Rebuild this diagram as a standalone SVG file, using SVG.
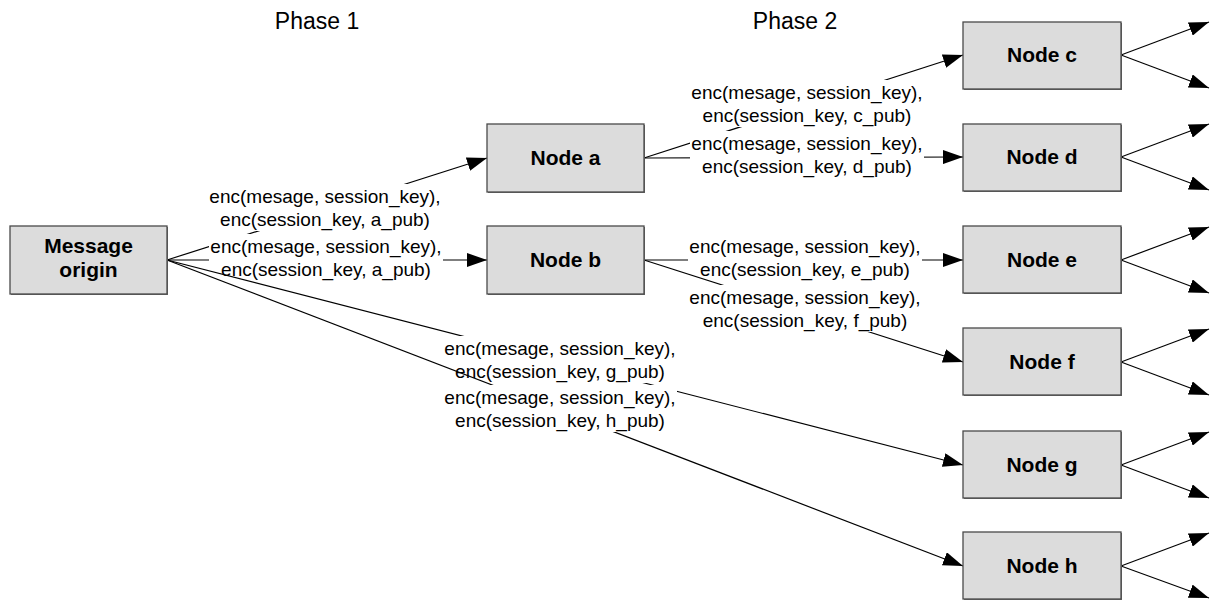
<svg xmlns="http://www.w3.org/2000/svg" width="1211" height="601" viewBox="0 0 1211 601">
  <style>
    .box { fill: #dcdcdc; stroke: #4a4a4a; stroke-width: 1.3; }
    .shadow { fill: #6a6a6a; }
    .name { font-family: "Liberation Sans", Arial, sans-serif; font-size: 21px; font-weight: bold; fill: #000; text-anchor: middle; }
    .phase { font-family: "Liberation Sans", Arial, sans-serif; font-size: 23px; fill: #000; text-anchor: middle; }
    .wire { stroke: #000; stroke-width: 1.2; fill: none; marker-end: url(#arrow); }
    .lbl { font-family: "Liberation Sans", Arial, sans-serif; font-size: 19px; fill: #000; text-anchor: middle; }
    .lblbg { fill: #fff; }
  </style>
  <defs>
    <marker id="arrow" markerUnits="userSpaceOnUse" markerWidth="21" markerHeight="14" refX="20" refY="7" orient="auto">
      <path d="M0,0 L20,7 L0,14 z" fill="#000"/>
    </marker>
  </defs>

  <rect width="1211" height="601" fill="#fff"/>

  <!-- phase headings -->
  <text class="phase" x="317" y="29">Phase 1</text>
  <text class="phase" x="795" y="29">Phase 2</text>

  <!-- connectors: drawn in order, each label blanks out lines drawn before it -->
  <g id="connectors">
    <g id="origin-a">
      <line class="wire" x1="167" y1="260" x2="487" y2="158"/>
      <rect class="lblbg" x="208" y="184" width="234" height="47"/>
      <text class="lbl" x="325" y="203">enc(mesage, session_key),</text>
      <text class="lbl" x="325" y="226">enc(session_key, a_pub)</text>
    </g>
    <g id="origin-b">
      <line class="wire" x1="167" y1="260" x2="487" y2="260"/>
      <rect class="lblbg" x="209" y="234" width="234" height="47"/>
      <text class="lbl" x="326" y="253">enc(mesage, session_key),</text>
      <text class="lbl" x="326" y="276">enc(session_key, a_pub)</text>
    </g>
    <g id="origin-g">
      <line class="wire" x1="167" y1="260" x2="963" y2="465"/>
      <rect class="lblbg" x="443" y="336" width="234" height="47"/>
      <text class="lbl" x="560" y="355">enc(mesage, session_key),</text>
      <text class="lbl" x="560" y="378">enc(session_key, g_pub)</text>
    </g>
    <g id="origin-h">
      <line class="wire" x1="167" y1="260" x2="963" y2="566"/>
      <rect class="lblbg" x="443" y="385" width="234" height="47"/>
      <text class="lbl" x="560" y="404">enc(mesage, session_key),</text>
      <text class="lbl" x="560" y="427">enc(session_key, h_pub)</text>
    </g>
    <g id="a-c">
      <line class="wire" x1="644" y1="158" x2="963" y2="55"/>
      <rect class="lblbg" x="690" y="80" width="234" height="47"/>
      <text class="lbl" x="807" y="99">enc(mesage, session_key),</text>
      <text class="lbl" x="807" y="122">enc(session_key, c_pub)</text>
    </g>
    <g id="a-d">
      <line class="wire" x1="644" y1="158" x2="963" y2="157"/>
      <rect class="lblbg" x="690" y="131" width="234" height="47"/>
      <text class="lbl" x="807" y="150">enc(mesage, session_key),</text>
      <text class="lbl" x="807" y="173">enc(session_key, d_pub)</text>
    </g>
    <g id="b-e">
      <line class="wire" x1="644" y1="260" x2="963" y2="260"/>
      <rect class="lblbg" x="688" y="234" width="234" height="47"/>
      <text class="lbl" x="805" y="253">enc(mesage, session_key),</text>
      <text class="lbl" x="805" y="276">enc(session_key, e_pub)</text>
    </g>
    <g id="b-f">
      <line class="wire" x1="644" y1="260" x2="963" y2="362"/>
      <rect class="lblbg" x="688" y="285" width="234" height="47"/>
      <text class="lbl" x="805" y="304">enc(mesage, session_key),</text>
      <text class="lbl" x="805" y="327">enc(session_key, f_pub)</text>
    </g>
    <!-- onward fan-out from the phase 2 nodes -->
    <g id="fanout">
      <line class="wire" x1="1121" y1="55" x2="1209" y2="22"/>
      <line class="wire" x1="1121" y1="55" x2="1209" y2="88"/>
      <line class="wire" x1="1121" y1="157" x2="1209" y2="124"/>
      <line class="wire" x1="1121" y1="157" x2="1209" y2="190"/>
      <line class="wire" x1="1121" y1="260" x2="1209" y2="227"/>
      <line class="wire" x1="1121" y1="260" x2="1209" y2="293"/>
      <line class="wire" x1="1121" y1="362" x2="1209" y2="329"/>
      <line class="wire" x1="1121" y1="362" x2="1209" y2="395"/>
      <line class="wire" x1="1121" y1="465" x2="1209" y2="432"/>
      <line class="wire" x1="1121" y1="465" x2="1209" y2="498"/>
      <line class="wire" x1="1121" y1="566" x2="1209" y2="533"/>
      <line class="wire" x1="1121" y1="566" x2="1209" y2="598"/>
    </g>
  </g>

  <!-- nodes -->
  <g id="node-origin">
    <rect class="shadow" x="11" y="227" width="157" height="68"/>
    <rect class="box" x="10" y="226" width="157" height="68"/>
    <text class="name" x="88.5" y="253">Message</text>
    <text class="name" x="88.5" y="277">origin</text>
  </g>
  <g id="node-a">
    <rect class="shadow" x="488" y="125" width="157" height="68"/>
    <rect class="box" x="487" y="124" width="157" height="68"/>
    <text class="name" x="565.5" y="165">Node a</text>
  </g>
  <g id="node-b">
    <rect class="shadow" x="488" y="227" width="157" height="68"/>
    <rect class="box" x="487" y="226" width="157" height="68"/>
    <text class="name" x="565.5" y="267">Node b</text>
  </g>
  <g id="node-c">
    <rect class="shadow" x="964" y="23" width="158" height="67"/>
    <rect class="box" x="963" y="22" width="158" height="67"/>
    <text class="name" x="1042" y="62">Node c</text>
  </g>
  <g id="node-d">
    <rect class="shadow" x="964" y="125" width="158" height="67"/>
    <rect class="box" x="963" y="124" width="158" height="67"/>
    <text class="name" x="1042" y="164">Node d</text>
  </g>
  <g id="node-e">
    <rect class="shadow" x="964" y="227" width="158" height="67"/>
    <rect class="box" x="963" y="226" width="158" height="67"/>
    <text class="name" x="1042" y="267">Node e</text>
  </g>
  <g id="node-f">
    <rect class="shadow" x="964" y="329" width="158" height="67"/>
    <rect class="box" x="963" y="328" width="158" height="67"/>
    <text class="name" x="1042" y="369">Node f</text>
  </g>
  <g id="node-g">
    <rect class="shadow" x="964" y="432" width="158" height="67"/>
    <rect class="box" x="963" y="431" width="158" height="67"/>
    <text class="name" x="1042" y="472">Node g</text>
  </g>
  <g id="node-h">
    <rect class="shadow" x="964" y="533" width="158" height="67"/>
    <rect class="box" x="963" y="532" width="158" height="67"/>
    <text class="name" x="1042" y="573">Node h</text>
  </g>
</svg>
